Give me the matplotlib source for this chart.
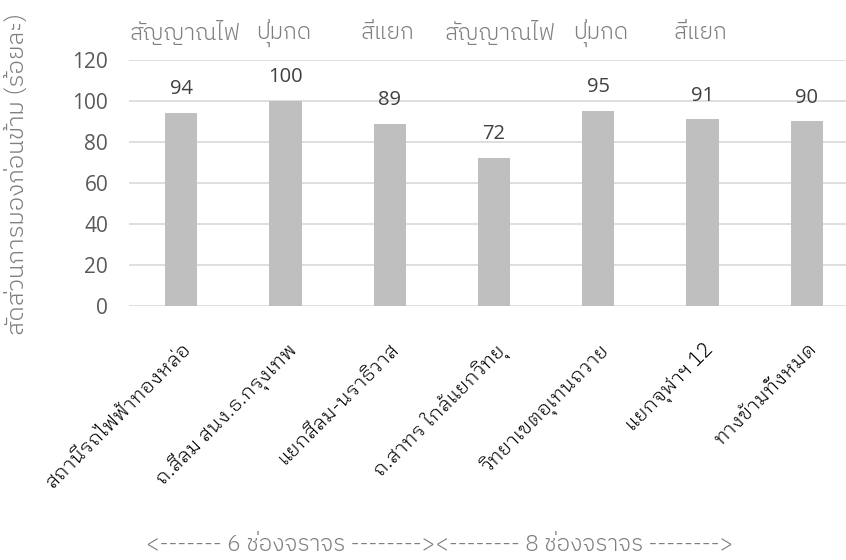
import matplotlib
matplotlib.use('Agg')
import matplotlib.pyplot as plt

plt.rcParams['font.family'] = ['IBM Plex Sans Thai', 'DejaVu Sans']

sites = ['สถานีรถไฟฟ้าทองหล่อ', 'ถ.สีลม สนง.ธ.กรุงเทพ', 'แยกสีลม-นราธิวาส',
         'ถ.สาทร ใกล้แยกวิทยุ', 'วิทยาเขตอุเทนถวาย', 'แยกจุฬาฯ 12', 'ทางข้ามทั้งหมด']
values = [94, 100, 89, 72, 95, 91, 90]
top_labels = ['สัญญาณไฟ', 'ปุ่มกด', 'สี่แยก', 'สัญญาณไฟ', 'ปุ่มกด', 'สี่แยก']
top_pos = [0.04, 0.98, 1.98, 3.06, 4.02, 4.98]
ylabel = 'สัดส่วนการมองก่อนข้าม (ร้อยละ)'
lanes = '<------- 6 ช่องจราจร --------><-------- 8 ช่องจราจร -------->'

thin = ['IBM Plex Sans Thai', 'DejaVu Sans']
looped = ['IBM Plex Sans Thai Looped', 'DejaVu Sans']
num = ['Open Sans', 'DejaVu Sans']

fig = plt.figure(figsize=(8.46, 5.6), dpi=100)
ax = fig.add_axes([0.1525, 0.4536, 0.8475, 0.4393])

x = list(range(len(sites)))
ax.bar(x, values, width=0.31, color='#bfbfbf', zorder=2)
for xi, v in zip(x, values):
    ax.annotate(str(v), (xi, v), xytext=(0, 10), textcoords='offset points',
                ha='center', va='bottom', fontsize=14.5, color='#404040',
                family=num)

ax.set_xlim(-0.5, 6.375)
ax.set_ylim(0, 120)
ax.set_yticks(range(0, 121, 20))
ax.set_yticklabels([str(t) for t in range(0, 121, 20)], family=num)
ax.grid(axis='y', color='#d9d9d9', linewidth=1.2, zorder=0)
for s in ax.spines.values():
    s.set_visible(False)
ax.tick_params(axis='both', length=0)
ax.tick_params(axis='y', labelsize=15, labelcolor='#595959', pad=15)
ax.set_xticks(x)
ax.set_xticklabels(sites, rotation=45, ha='right', rotation_mode='anchor',
                   fontsize=14.5, color='black', family=looped, fontweight=300)
ax.tick_params(axis='x', pad=24)

for p, t in zip(top_pos, top_labels):
    ax.text(p, 1.11, t, transform=ax.get_xaxis_transform(), ha='center',
            va='center', fontsize=16.5, color='#7f7f7f', family=thin,
            fontweight=300)

fig.text(18 / 846, 1 - 174 / 560, ylabel, rotation=90, ha='center', va='center',
         fontsize=17.5, color='#7f7f7f', family=thin, fontweight=300)
fig.text(440 / 846, 1 - 545 / 560, lanes, ha='center', va='center',
         fontsize=16.4, color='#7f7f7f', family=thin, fontweight=300)

fig.savefig('out.png', dpi=100)
